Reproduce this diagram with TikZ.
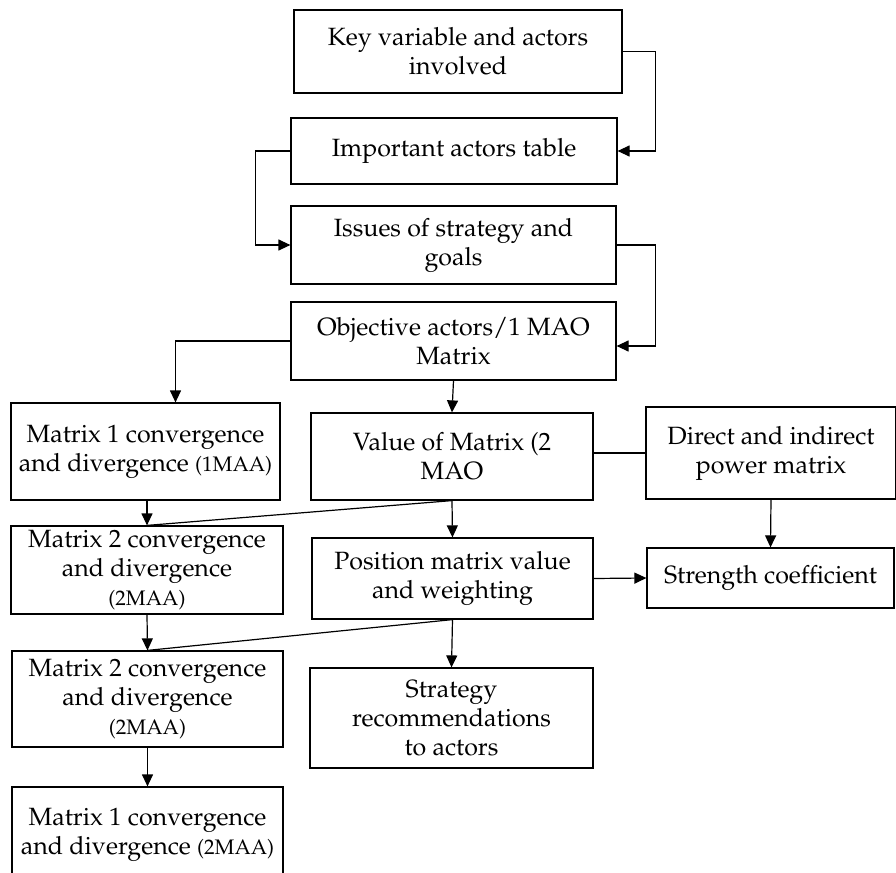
\documentclass[tikz,border=0pt]{standalone}
\usepackage[T1]{fontenc}
\usepackage{mathpazo}
\usepackage{tikz}
\usetikzlibrary{positioning, arrows.meta}

\tikzset{
  box/.style = {rectangle, draw, line width = 0.6pt, align = center, inner sep = 0pt,
                font = \fontsize{12.5}{14.5}\selectfont},
  >={Triangle[length = 6pt, width = 5.5pt]}
}
\newcommand{\paren}[1]{{\fontsize{10.5}{14.5}\selectfont #1}}

\begin{document}
\begin{tikzpicture}[x = 0.5pt, y = -0.5pt, line width = 0.6pt]
        \useasboundingbox (0, 0) rectangle (896, 873);

        \node[box, minimum width = 164pt, minimum height = 41.5pt] (keyvar) at (458, 51.5) {Key variable and actors\\involved};
        \node[box, minimum width = 163pt, minimum height = 33pt] (actors) at (454, 151) {Important actors table};
        \node[box, minimum width = 162.5pt, minimum height = 39pt] (issues) at (453.5, 245) {Issues of strategy and\\goals};
        \node[box, minimum width = 162.5pt, minimum height = 39pt] (objmao) at (453.5, 341) {Objective actors/1 MAO\\Matrix};

        \node[box, minimum width = 134.5pt, minimum height = 48.5pt] (matrixA) at (145.5, 451.5) {Matrix 1 convergence\\and divergence \paren{(1MAA)}};
        \node[box, minimum width = 141pt, minimum height = 43.5pt] (valmao) at (452, 456.5) {Value of Matrix (2\\MAO};
        \node[box, minimum width = 125pt, minimum height = 46pt] (power) at (771, 453) {Direct and indirect\\power matrix};

        \node[box, minimum width = 136pt, minimum height = 44pt] (matrixB) at (147, 570) {Matrix 2 convergence\\and divergence\\\paren{(2MAA)}};
        \node[box, minimum width = 140.5pt, minimum height = 40.5pt] (position) at (452.5, 578.5) {Position matrix value\\and weighting};
        \node[box, minimum width = 123.5pt, minimum height = 30pt] (strength) at (770.5, 578) {Strength coefficient};

        \node[box, minimum width = 135.5pt, minimum height = 48pt] (matrixC) at (147.5, 699) {Matrix 2 convergence\\and divergence\\\paren{(2MAA)}};
        \node[box, minimum width = 141.5pt, minimum height = 50pt] (strategy) at (451.5, 718) {Strategy\\recommendations\\to actors};

        \node[box, minimum width = 135.5pt, minimum height = 48pt] (matrixD) at (147.5, 835) {Matrix 1 convergence\\and divergence \paren{(2MAA)}};

        % top chain
        \draw[->] (keyvar.east) -- ++(33, 0) |- (actors.east);
        \draw[->] (actors.west) -- ++(-35, 0) |- (issues.west);
        \draw[->] (issues.east) -- ++(39, 0) |- ([yshift = -2.5pt]objmao.east);
        \draw[->] (objmao.west) -| ([xshift = 15pt]matrixA.north);
        \draw[->] (objmao.south) -- (valmao.north);

        % middle
        \draw (valmao.east |- power.west) -- (power.west);
        \draw[->] (power.south) -- (strength.north);
        \draw[->] (matrixA.south -| matrixB.north) -- (matrixB.north);
        \draw (valmao.south) -- (matrixB.north);
        \draw[->] (valmao.south) -- (position.north);
        \draw[->] (position.east) -- (strength.west);

        % bottom
        \draw[->] (matrixB.south) -- (matrixC.north);
        \draw (position.south) -- (matrixC.north);
        \draw[->] (position.south) -- (strategy.north);
        \draw[->] (matrixC.south) -- (matrixD.north);
      \end{tikzpicture}
\end{document}
